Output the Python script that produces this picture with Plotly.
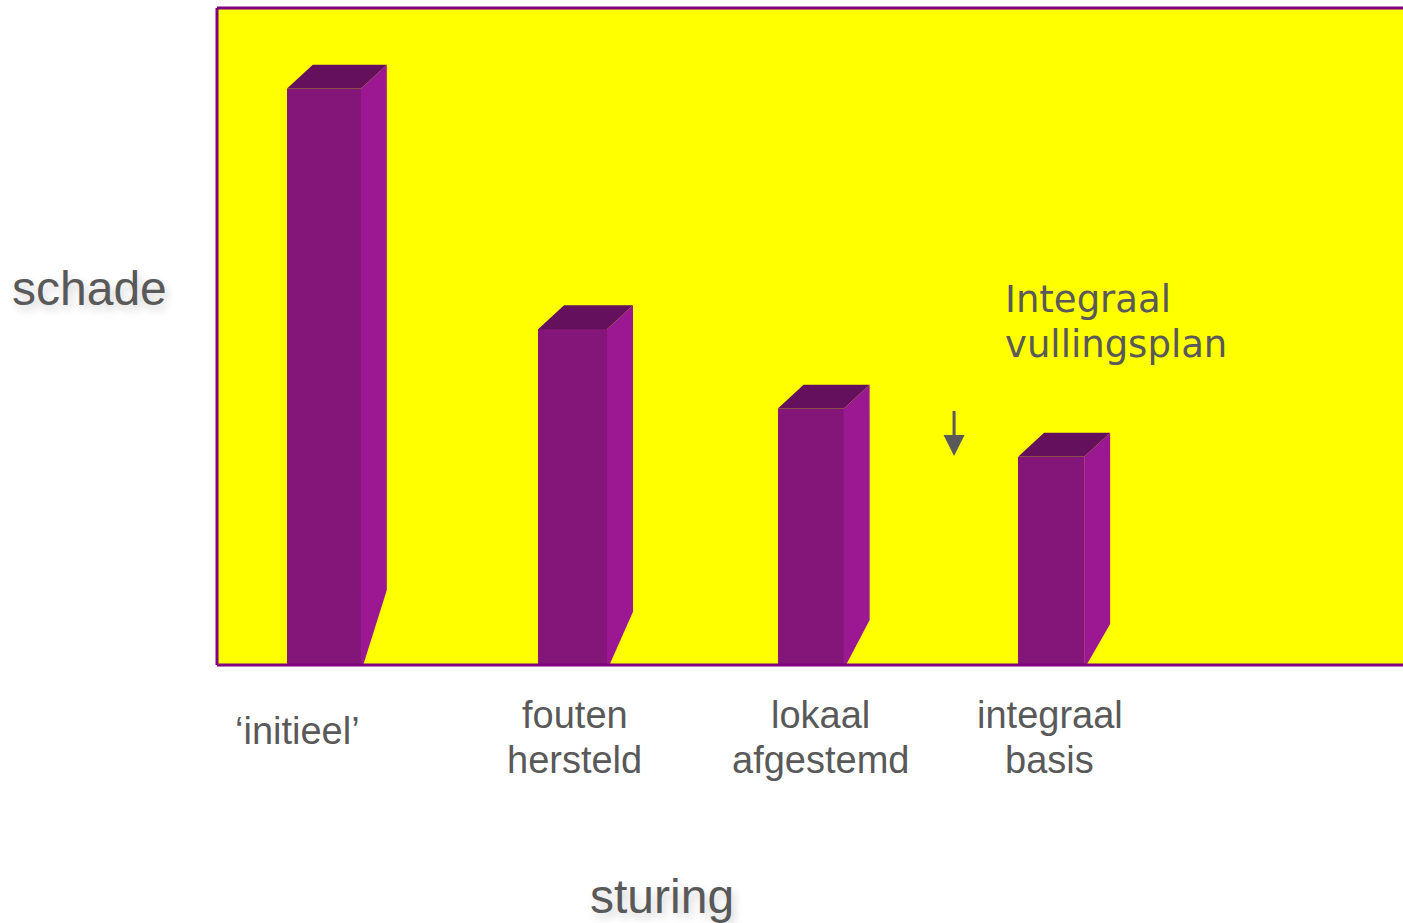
import plotly.graph_objects as go

# ---- data -------------------------------------------------------------
categories = ["initieel", "fouten hersteld", "lokaal afgestemd", "integraal basis"]
tick_labels = [["\u2018initieel\u2019"], ["fouten", "hersteld"], ["lokaal", "afgestemd"], ["integraal", "basis"]]
schade = [87.7, 51.1, 39.0, 31.7]
callout_lines = ["Integraal", "vullingsplan"]

# ---- styling ------------------------------------------------------------
W, H = 1403, 923
M_L, M_R, M_T, M_B = 217, 0, 8, 258
X_RANGE = [-0.4534, 4.4484]
Y_RANGE = [0, 100]
BAR_W = [0.306, 0.285, 0.273, 0.273]   # front face widths (axis units)
BAR_DX = [-0.012, 0.016, 0.0, -0.006]  # small horizontal nudges per bar
DEPTH_X = 0.1075        # 3-D depth offset, x (axis units)
DEPTH_Y = 3.65          # 3-D depth offset, y (axis units)
SIDE_CUT = [11.4, 8.1, 6.85, 6.25]   # where the side face meets the floor slant
FRONT = "#851679"
SIDE = "#9C1893"
TOP = "#65105D"
TEXT = "#595959"
PURPLE = "#800080"
LABEL_DX = [-29, 6, 10, -3]
LABEL_DY = [-66, -72, -72, -72]
LINE_GAP = 45           # px between label lines

xs = [i + d for i, d in enumerate(BAR_DX)]

fig = go.Figure()

# front faces
fig.add_trace(go.Bar(
    x=xs, y=schade, width=BAR_W,
    marker=dict(color=FRONT, line=dict(width=0)),
    hoverinfo="skip", showlegend=False,
))

# side and top faces, derived from each bar's value
for x, w, v, cut in zip(xs, BAR_W, schade, SIDE_CUT):
    xl, xr = x - w / 2, x + w / 2
    fig.add_trace(go.Scatter(
        x=[xr, xr + DEPTH_X, xr + DEPTH_X, xr + 0.01, xr, xr],
        y=[v, v + DEPTH_Y, cut, 0, 0, v],
        fill="toself", fillcolor=SIDE, mode="lines", line=dict(width=0),
        hoverinfo="skip", showlegend=False,
    ))
    fig.add_trace(go.Scatter(
        x=[xl, xl + DEPTH_X, xr + DEPTH_X, xr, xl],
        y=[v, v + DEPTH_Y, v + DEPTH_Y, v, v],
        fill="toself", fillcolor=TOP, mode="lines", line=dict(width=0),
        hoverinfo="skip", showlegend=False,
    ))

# category labels, one annotation per line for tighter leading
label_font = dict(family="Liberation Sans, Arial", size=38, color=TEXT)
for i, (lines, dx, dy) in enumerate(zip(tick_labels, LABEL_DX, LABEL_DY)):
    n = len(lines)
    for k, line in enumerate(lines):
        off = (k - (n - 1) / 2) * LINE_GAP
        fig.add_annotation(
            x=i, y=0, xref="x", yref="paper", text=line, showarrow=False,
            xanchor="center", yanchor="middle", yshift=dy - off, xshift=dx,
            font=label_font,
        )

# axis titles
title_font = dict(family="Liberation Sans, Arial", size=48, color=TEXT,
                  shadow="3px 5px 8px rgba(0,0,0,0.18)")
fig.add_annotation(x=-0.1071, y=0.5723, xref="paper", yref="paper", text="schade",
                   showarrow=False, xanchor="center", yanchor="middle", font=title_font)
fig.add_annotation(x=0.3748, y=-0.353, xref="paper", yref="paper", text="sturing",
                   showarrow=False, xanchor="center", yanchor="middle", font=title_font)

# callout
callout_font = dict(family="DejaVu Sans, Verdana", size=37, color=TEXT)
for k, line in enumerate(callout_lines):
    fig.add_annotation(x=0.6627, y=0.5723, xref="paper", yref="paper", text=line,
                       showarrow=False, xanchor="left", yanchor="middle",
                       yshift=-k * LINE_GAP - 11, font=callout_font)
fig.add_annotation(x=2.593, y=31.8, xref="x", yref="y", ax=2.593, ay=38.9,
                   axref="x", ayref="y", text="", showarrow=True,
                   arrowhead=2, arrowsize=1.4, arrowwidth=3, arrowcolor=TEXT)

# plot frame (open on the right)
fig.add_shape(type="line", xref="paper", yref="paper", x0=0, x1=1.01, y0=1, y1=1,
              line=dict(color=PURPLE, width=3))
fig.add_shape(type="line", xref="paper", yref="paper", x0=0, x1=1.01, y0=0, y1=0,
              line=dict(color=PURPLE, width=3))
fig.add_shape(type="line", xref="paper", yref="paper", x0=0, x1=0, y0=0, y1=1,
              line=dict(color=PURPLE, width=3))

fig.update_layout(
    width=W, height=H,
    margin=dict(l=M_L, r=M_R, t=M_T, b=M_B),
    paper_bgcolor="white", plot_bgcolor="#FFFF00",
    xaxis=dict(range=X_RANGE, visible=False, fixedrange=True),
    yaxis=dict(range=Y_RANGE, visible=False, fixedrange=True),
    bargap=0, showlegend=False,
)

fig.write_html("out.html", config=dict(displayModeBar=False))
